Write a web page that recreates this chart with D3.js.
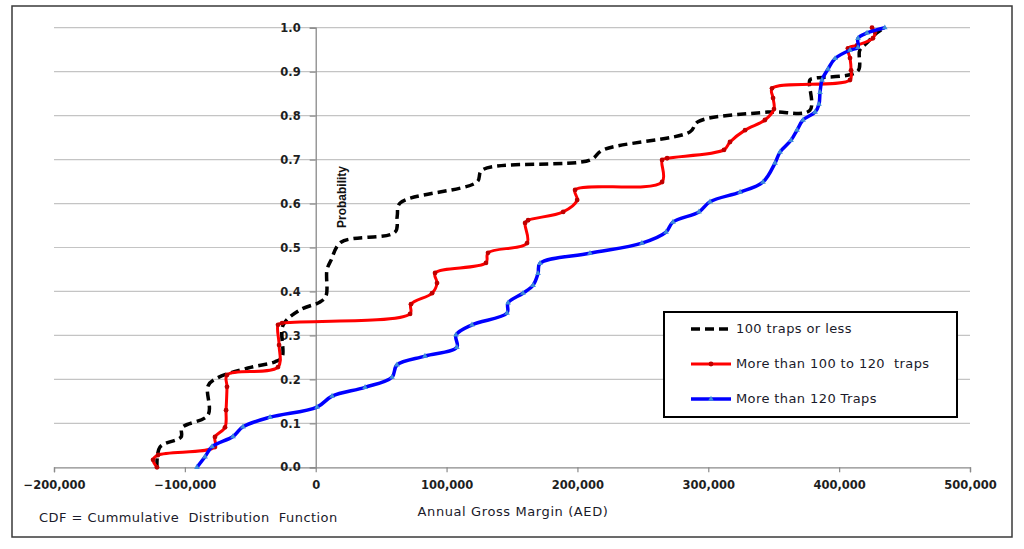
<!DOCTYPE html>
<html><head><meta charset="utf-8">
<script src="https://cdn.jsdelivr.net/npm/d3@7"></script>
<style>
html,body{margin:0;padding:0;background:#fff;}
svg{display:block;}
</style></head>
<body>
<svg id="chart" width="1024" height="549"></svg>
<script>
// ---- Data (Annual Gross Margin in AED, cumulative probability) ----
const seriesNames = ["100 traps or less", "More than 100 to 120  traps", "More than 120 Traps"];

const blackX = [-121300,-119000,-102900,-102200,-82300,-82300,-75400,-51700,-31100,-25700,-25000,-12000,3300,7900,8600,11700,19300,60600,62300,64400,123200,127100,209600,219500,286000,292100,345500,377600,377600,380600,414200,415800,421100,428800,434900];
const blackP = [0.000,0.046,0.069,0.090,0.119,0.185,0.203,0.226,0.240,0.251,0.323,0.358,0.376,0.390,0.449,0.471,0.512,0.535,0.572,0.601,0.649,0.676,0.699,0.722,0.763,0.786,0.808,0.812,0.881,0.885,0.901,0.949,0.965,0.988,1.000];

const redX = [-121300,-124300,-120500,-77000,-77000,-69300,-68500,-67800,-67800,-28800,-28000,-28800,-25700,72100,72800,88900,92700,91200,130100,131700,161500,160000,162300,189100,199800,198200,264700,264700,268500,312000,316600,328100,343300,350200,349500,348700,408300,409100,408300,406700,413600,425800,427400,425100];
const redP = [0.000,0.017,0.028,0.046,0.069,0.091,0.130,0.183,0.210,0.228,0.278,0.324,0.328,0.349,0.371,0.396,0.419,0.442,0.465,0.488,0.510,0.556,0.562,0.581,0.608,0.631,0.649,0.699,0.703,0.722,0.740,0.767,0.790,0.815,0.840,0.862,0.881,0.903,0.931,0.953,0.960,0.976,0.990,1.000];

const blueX = [-90800,-84600,-79200,-63200,-55600,-34900,1000,12500,37700,58300,62100,83500,107900,107200,119400,146200,147000,158400,166100,169900,171400,209600,249300,267700,273000,292900,301300,324300,341800,351000,354800,363200,367800,372400,381600,384600,385400,386900,391500,396900,408300,414400,414400,421300,434900];
const blueP = [0.000,0.024,0.047,0.070,0.092,0.114,0.137,0.162,0.182,0.205,0.233,0.253,0.273,0.301,0.324,0.351,0.374,0.396,0.414,0.441,0.464,0.487,0.510,0.535,0.558,0.581,0.604,0.626,0.649,0.692,0.717,0.744,0.767,0.790,0.808,0.826,0.853,0.881,0.906,0.930,0.949,0.955,0.976,0.988,1.000];

const xTicks = [-200000,-100000,0,100000,200000,300000,400000,500000];
const yTicks = [0,0.1,0.2,0.3,0.4,0.5,0.6,0.7,0.8,0.9,1.0];

const xTitle = "Annual Gross Margin (AED)";
const yTitle = "Probability";
const footnote = "CDF = Cummulative  Distribution  Function";

// ---- Layout ----
const svg = d3.select("#chart");
const x = d3.scaleLinear().domain([-200000, 500000]).range([54, 970]);
const y = d3.scaleLinear().domain([0, 1]).range([467.3, 27.7]);

svg.append("rect").attr("x",12).attr("y",6).attr("width",1000).attr("height",531)
  .attr("fill","#fff").attr("stroke","#3a3a3a").attr("stroke-width",1.5);

// gridlines
svg.append("g").selectAll("line").data(yTicks.filter(d=>d>0)).join("line")
  .attr("x1", x(-200000)).attr("x2", x(500000))
  .attr("y1", d=>y(d)).attr("y2", d=>y(d))
  .attr("stroke","#c4c4c4").attr("stroke-width",1.2);

// x axis
const xAxis = d3.axisBottom(x).tickValues(xTicks).tickSize(5).tickPadding(9)
  .tickFormat(d3.format(",d"));
const gx = svg.append("g").attr("transform",`translate(0,${y(0)})`).call(xAxis);
gx.select(".domain").attr("stroke","#8a8a8a").attr("stroke-width",1.3);
gx.selectAll(".tick line").attr("stroke","#8a8a8a").attr("stroke-width",1.2);
gx.selectAll("text").attr("font-family","DejaVu Sans").attr("font-weight","bold")
  .attr("font-size","11.5px").attr("fill","#1e1e1e");

// y axis at x = 0
const yAxis = d3.axisLeft(y).tickValues(yTicks).tickSize(6).tickPadding(9)
  .tickFormat(d3.format(".1f"));
const gy = svg.append("g").attr("transform",`translate(${x(0)},0)`).call(yAxis);
gy.select(".domain").attr("stroke","#8a8a8a").attr("stroke-width",1.3);
gy.selectAll(".tick line").attr("stroke","#8a8a8a").attr("stroke-width",1.2);
gy.selectAll("text").attr("font-family","DejaVu Sans").attr("font-weight","bold")
  .attr("font-size","11.5px").attr("fill","#1e1e1e");

// titles
svg.append("text").attr("x",343).attr("y",197)
  .attr("transform","rotate(-90,343,197)")
  .attr("text-anchor","middle").attr("dominant-baseline","middle")
  .attr("font-family","Liberation Sans Narrow, Liberation Sans").attr("font-weight","bold")
  .attr("font-size","12px").attr("fill","#111").text(yTitle);

svg.append("text").attr("x",513).attr("y",516).attr("text-anchor","middle")
  .attr("font-family","DejaVu Sans").attr("font-size","13px").attr("fill","#1a1a2a")
  .attr("letter-spacing","0.6px").style("white-space","pre").text(xTitle);

svg.append("text").attr("x",39).attr("y",522)
  .attr("font-family","DejaVu Sans").attr("font-size","13px").attr("fill","#1a1a2a")
  .attr("letter-spacing","0.45px").style("white-space","pre").text(footnote);

// ---- Series ----
const curve = d3.curveCatmullRom.alpha(0.5);
function pts(xs, ps){ return xs.map((v,i)=>[v, ps[i]]); }
const line = d3.line().x(d=>x(d[0])).y(d=>y(d[1])).curve(curve);

const blackData = pts(blackX, blackP);
const redData = pts(redX, redP);
const blueData = pts(blueX, blueP);

svg.append("path").datum(blackData).attr("d", line).attr("fill","none")
  .attr("stroke","#000").attr("stroke-width",3.5).attr("stroke-dasharray","9,5");

svg.append("path").datum(redData).attr("d", line).attr("fill","none")
  .attr("stroke","#ff0000").attr("stroke-width",3);
svg.append("g").selectAll("circle").data(redData).join("circle")
  .attr("cx", d=>x(d[0])).attr("cy", d=>y(d[1])).attr("r",2.4).attr("fill","#c00000");

svg.append("path").datum(blueData).attr("d", line).attr("fill","none")
  .attr("stroke","#0000ff").attr("stroke-width",3.5);
const tri = d3.symbol().type(d3.symbolTriangle).size(14);
svg.append("g").selectAll("path").data(blueData).join("path")
  .attr("d", tri).attr("transform", d=>`translate(${x(d[0])},${y(d[1])})`)
  .attr("fill","#3d8fd9");

// ---- Legend ----
const lg = svg.append("g");
lg.append("rect").attr("x",664).attr("y",312).attr("width",293).attr("height",105)
  .attr("fill","#fff").attr("stroke","#000").attr("stroke-width",2);
const legY = [329, 364, 399];
lg.append("line").attr("x1",691).attr("x2",731).attr("y1",legY[0]).attr("y2",legY[0])
  .attr("stroke","#000").attr("stroke-width",3.5).attr("stroke-dasharray","9,5");
lg.append("line").attr("x1",691).attr("x2",731).attr("y1",legY[1]).attr("y2",legY[1])
  .attr("stroke","#ff0000").attr("stroke-width",3);
lg.append("circle").attr("cx",711).attr("cy",legY[1]).attr("r",2.4).attr("fill","#c00000");
lg.append("line").attr("x1",691).attr("x2",731).attr("y1",legY[2]).attr("y2",legY[2])
  .attr("stroke","#0000ff").attr("stroke-width",3.5);
lg.append("path").attr("d",tri).attr("transform",`translate(711,${legY[2]})`).attr("fill","#3d8fd9");
lg.selectAll("text.lt").data(seriesNames).join("text").attr("class","lt")
  .attr("x",736).attr("y",(d,i)=>legY[i]).attr("dominant-baseline","middle")
  .attr("font-family","DejaVu Sans").attr("font-size","13px").attr("fill","#1a1a2a")
  .attr("letter-spacing","0.4px").style("white-space","pre").text(d=>d);
</script>
</body></html>
